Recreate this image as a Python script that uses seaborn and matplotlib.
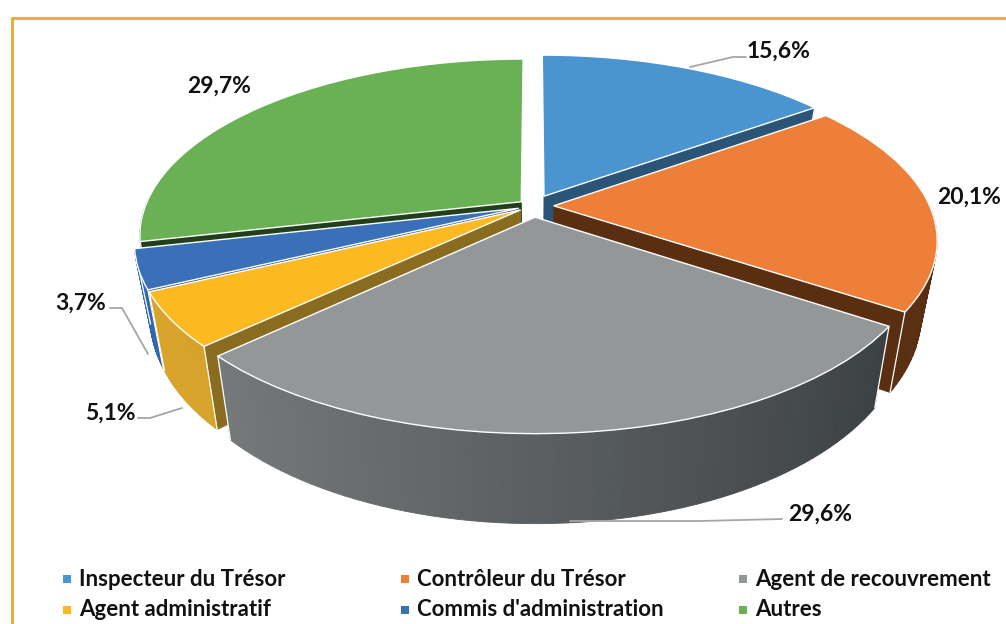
import numpy as np
import matplotlib
matplotlib.use("Agg")
import matplotlib.pyplot as plt
import matplotlib.colors as mcolors
import matplotlib.transforms as mtransforms
import seaborn as sns

# chart data
categories = ["Inspecteur du Trésor", "Contrôleur du Trésor", "Agent de recouvrement",
              "Agent administratif", "Commis d'administration", "Autres"]
shares = [15.6, 20.1, 29.6, 5.1, 3.7, 29.7]

# styles
top_colors = ["#4a94d0", "#ee7f38", "#949798", "#fcb922", "#3a70b8", "#6ab055"]
face_colors = ["#2b5578", "#5a2f11", "#5a5c5e", "#8a6c20", "#2a4f8a", "#223f1c"]
wall_left = ["#2b5578", "#5a2f11", "#808384", "#d9a52c", "#3068b0", "#223f1c"]
wall_right = ["#2b5578", "#5a2f11", "#363b3e", "#c8962a", "#3068b0", "#223f1c"]
explode = [0.065, 0.055, 0.065, 0.04, 0.04, 0.04]

# tilted view of the pie, in pixels of the figure
CX, CY, A, B, K, DEPTH, SHRINK = 533, 206, 376, 171, 0.188, 72, 0.04


def project(x, y, z=0.0):
    w = 1 + K * y
    return CX + A * x / w * (1 - SHRINK * z), CY - B * y / w + DEPTH * z / w


class TopView(mtransforms.Transform):
    input_dims = output_dims = 2
    has_inverse = False

    def transform_non_affine(self, values):
        values = np.asarray(values)
        return np.column_stack(project(values[:, 0], values[:, 1]))


def quad(ax, p1, p2, color, zorder):
    # p1, p2 are unit circle points, the quad hangs from the top down to the base
    x1, y1 = project(p1[0], p1[1], 0)
    x2, y2 = project(p2[0], p2[1], 0)
    x3, y3 = project(p2[0], p2[1], 1)
    x4, y4 = project(p1[0], p1[1], 1)
    ax.fill([x1, x2, x3, x4], [y1, y2, y3, y4], color=color, lw=0.6, zorder=zorder)


sns.set_style("white")
fig = plt.figure(figsize=(10.06, 6.24), dpi=100)
ax = fig.add_axes([0, 0, 1, 1])

wedges, _ = ax.pie(shares, explode=explode, startangle=90, counterclock=False,
                   colors=sns.color_palette(top_colors), radius=1.0,
                   wedgeprops=dict(edgecolor="white", linewidth=1.0))
ax.set_aspect("auto")
ax.set_xlim(0, 1006)
ax.set_ylim(624, 0)
ax.axis("off")

top_view = TopView() + ax.transData

# draw back slices first
order = sorted(range(len(wedges)), key=lambda i: -wedges[i].center[1])
for rank, i in enumerate(order):
    w = wedges[i]
    base = 10 * (rank + 1)
    cx, cy = w.center
    left = np.array(mcolors.to_rgb(wall_left[i]))
    right = np.array(mcolors.to_rgb(wall_right[i]))

    # cut faces and corner lines, only on the sides turned to the viewer
    for theta, sign in ((w.theta1, -1), (w.theta2, 1)):
        t = np.radians(theta)
        rim = (cx + w.r * np.cos(t), cy + w.r * np.sin(t))
        face_visible = sign * np.cos(t) < -0.01
        if face_visible:
            quad(ax, (cx, cy), rim, face_colors[i], base + 1)
        if face_visible or np.sin(t) < -0.01:
            xa, ya = project(rim[0], rim[1], 0)
            xb, yb = project(rim[0], rim[1], 1)
            ax.plot([xa, xb], [ya, yb], color="white", lw=0.9, zorder=base + 2.5)

    # outer wall with a left to right shade, the back part is hidden
    angles = np.radians(np.linspace(w.theta1, w.theta2, 60))
    for a1, a2 in zip(angles[:-1], angles[1:]):
        if np.sin((a1 + a2) / 2) > 0.02:
            continue
        p1 = (cx + w.r * np.cos(a1), cy + w.r * np.sin(a1))
        p2 = (cx + w.r * np.cos(a2), cy + w.r * np.sin(a2))
        frac = np.clip(((p1[0] + p2[0]) / 2 + 1) / 2, 0, 1)
        quad(ax, p1, p2, left + (right - left) * frac, base + 2)

    w.set_transform(top_view)
    w.set_zorder(base + 3)

# frame
ax.plot([12, 12, 1006], [624, 18, 18], color="#e8b040", lw=2.2, zorder=1, clip_on=False)

# value labels and their leader lines
label_font = dict(family="Lato", fontweight="bold", fontsize=16.5, color="#111111",
                  ha="center", va="center", zorder=200)
label_pos = [(779, 51), (969, 197), (820, 514), (110, 413), (81, 303), (219, 86)]
leaders = [[(690, 67), (733, 57), (746, 57)], None,
           [(570, 521), (700, 521), (782, 519)],
           [(138, 418), (150, 418), (182, 408)],
           [(110, 308), (122, 308), (148, 354)], None]
for v, pos, line in zip(shares, label_pos, leaders):
    ax.text(pos[0], pos[1], f"{v:.1f}".replace(".", ",") + "%", **label_font)
    if line is not None:
        xs, ys = zip(*line)
        ax.plot(xs, ys, color="#a6a6a6", lw=1.3, zorder=150)

# legend, two rows of three
col_x = [67, 405, 743]
row_y = [579, 610]
for i, name in enumerate(categories):
    x, y = col_x[i % 3], row_y[i // 3]
    ax.scatter([x], [y], marker="s", s=34, color=top_colors[i], linewidths=0, zorder=200)
    ax.text(x + 12, y, name, family="Lato", fontweight="bold", fontsize=16,
            color="#111111", ha="left", va="center", zorder=200)

fig.savefig("out.png", dpi=100)
